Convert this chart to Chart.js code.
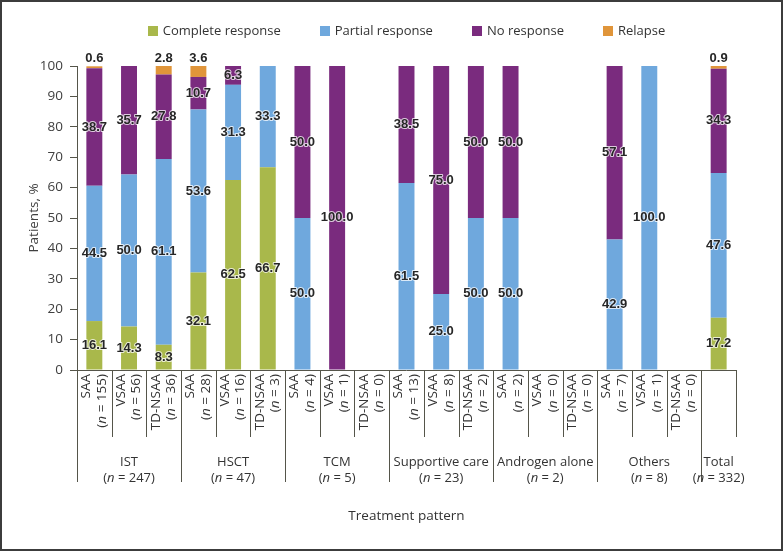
<!DOCTYPE html>
<html>
<head>
<meta charset="utf-8">
<script src="https://cdn.jsdelivr.net/npm/chart.js@4.4.1/dist/chart.umd.min.js"></script>
<style>
    html, body { margin: 0; padding: 0; background: #fff; }
    #wrap { position: relative; width: 783px; height: 551px; }
    #wrap::after { content: ''; position: absolute; inset: 0; border: 2px solid #3c3c3c; pointer-events: none; }
    canvas { display: block; }
</style>
</head>
<body>
<div id="wrap"><canvas id="chart" width="783" height="551"></canvas></div>
<script>
// Response by treatment pattern and disease severity

const subLabels = ['SAA', 'VSAA', 'TD-NSAA', 'SAA', 'VSAA', 'TD-NSAA', 'SAA', 'VSAA', 'TD-NSAA',
                   'SAA', 'VSAA', 'TD-NSAA', 'SAA', 'VSAA', 'TD-NSAA', 'SAA', 'VSAA', 'TD-NSAA', ''];
const subN = [155, 56, 36, 28, 16, 3, 4, 1, 0, 13, 8, 2, 2, 0, 0, 7, 1, 0, null];
const groupLabels = ['IST', 'HSCT', 'TCM', 'Supportive care', 'Androgen alone', 'Others', 'Total'];
const groupN = [247, 47, 5, 23, 2, 8, 332];
const groupStart = [0, 3, 6, 9, 12, 15, 18];
const groupSize = [3, 3, 3, 3, 3, 3, 1];

const completeResp = [16.1, 14.3, 8.3, 32.1, 62.5, 66.7, null, null, null, null, null, null, null, null, null, null, null, null, 17.2];
const partialResp = [44.5, 50.0, 61.1, 53.6, 31.3, 33.3, 50.0, null, null, 61.5, 25.0, 50.0, 50.0, null, null, 42.9, 100.0, null, 47.6];
const noResp = [38.7, 35.7, 27.8, 10.7, 6.3, null, 50.0, 100.0, null, 38.5, 75.0, 50.0, 50.0, null, null, 57.1, null, null, 34.3];
const relapse = [0.6, null, 2.8, 3.6, null, null, null, null, null, null, null, null, null, null, null, null, null, null, 0.9];

const yTicks = [0, 10, 20, 30, 40, 50, 60, 70, 80, 90, 100];

const SERIES = [
    { label: 'Complete response', data: completeResp, color: '#a9b84b' },
    { label: 'Partial response', data: partialResp, color: '#6fa8dd' },
    { label: 'No response', data: noResp, color: '#7a2b7e' },
    { label: 'Relapse', data: relapse, color: '#e0953a' },
];

const FONT = '"Open Sans", "Noto Sans", sans-serif';
const TEXT = '#333333';
const LINE = '#55554a';

// draw "(n = 123)" with an italic n; align: 'right' | 'center'
function drawNText(ctx, n, x, y, align, size) {
    const parts = [['(', false], ['n', true], [' = ' + n + ')', false]];
    let total = 0;
    for (const [t, it] of parts) {
        ctx.font = (it ? 'italic ' : '') + size + 'px ' + FONT;
        total += ctx.measureText(t).width;
    }
    let cx = align === 'right' ? x - total : x - total / 2;
    ctx.textAlign = 'left';
    for (const [t, it] of parts) {
        ctx.font = (it ? 'italic ' : '') + size + 'px ' + FONT;
        ctx.fillText(t, cx, y);
        cx += ctx.measureText(t).width;
    }
}

const decorations = {
    id: 'decorations',
    afterDraw(chart) {
        const ctx = chart.ctx;
        const area = chart.chartArea;
        const xs = chart.scales.x;
        const slot = xs.width / subLabels.length;
        ctx.save();

        // value labels
        ctx.font = 'bold 13px "Liberation Sans", Arial, sans-serif';
        ctx.textAlign = 'center';
        ctx.textBaseline = 'middle';
        ctx.lineJoin = 'round';
        SERIES.forEach((s, di) => {
            const meta = chart.getDatasetMeta(di);
            s.data.forEach((v, j) => {
                if (v == null) return;
                const bar = meta.data[j];
                const yPos = di === 3 ? bar.y - 8 : (bar.y + bar.base) / 2;
                const txt = v.toFixed(1);
                ctx.strokeStyle = 'rgba(255,255,255,0.75)';
                ctx.lineWidth = 2;
                ctx.strokeText(txt, bar.x, yPos);
                ctx.fillStyle = '#262626';
                ctx.fillText(txt, bar.x, yPos);
            });
        });

        // x baseline
        ctx.strokeStyle = LINE;
        ctx.lineWidth = 1;
        ctx.beginPath();
        ctx.moveTo(area.left, area.bottom + 0.5);
        ctx.lineTo(area.right, area.bottom + 0.5);
        ctx.stroke();

        // separators
        const longStarts = new Set(groupStart);
        for (let j = 0; j <= subLabels.length; j++) {
            const x = Math.round(area.left + j * slot) + 0.5;
            const yEnd = longStarts.has(j) ? 482 : 437;
            ctx.beginPath();
            ctx.moveTo(x, area.bottom);
            ctx.lineTo(x, yEnd);
            ctx.stroke();
        }

        // rotated sub labels
        ctx.fillStyle = TEXT;
        ctx.textBaseline = 'middle';
        subLabels.forEach((lab, j) => {
            if (!lab) return;
            const cx = xs.getPixelForValue(j);
            ctx.save();
            ctx.translate(cx, area.bottom + 4);
            ctx.rotate(-Math.PI / 2);
            ctx.font = '13.5px ' + FONT;
            ctx.textAlign = 'right';
            ctx.fillText(lab, 0, -8);
            drawNText(ctx, subN[j], 0, 7.5, 'right', 13.5);
            ctx.restore();
        });

        // group labels
        ctx.textBaseline = 'middle';
        groupLabels.forEach((g, gi) => {
            const first = xs.getPixelForValue(groupStart[gi]);
            const last = xs.getPixelForValue(groupStart[gi] + groupSize[gi] - 1);
            const cx = (first + last) / 2;
            ctx.font = '13px ' + FONT;
            ctx.textAlign = 'center';
            ctx.fillText(g, cx, 462);
            drawNText(ctx, groupN[gi], cx, 478, 'center', 13);
        });

        // x title
        ctx.font = '13.5px ' + FONT;
        ctx.textAlign = 'center';
        ctx.fillText('Treatment pattern', (area.left + area.right) / 2, 516);

        // legend
        ctx.font = '13px ' + FONT;
        const gap = 39, box = 10, boxGap = 5;
        const widths = SERIES.map(s => box + boxGap + ctx.measureText(s.label).width);
        const total = widths.reduce((a, b) => a + b, 0) + gap * (SERIES.length - 1);
        let lx = (area.left + area.right) / 2 - total / 2;
        SERIES.forEach((s, i) => {
            ctx.fillStyle = s.color;
            ctx.fillRect(Math.round(lx), 26, box, box);
            ctx.fillStyle = TEXT;
            ctx.textAlign = 'left';
            ctx.fillText(s.label, lx + box + boxGap, 31);
            lx += widths[i] + gap;
        });

        ctx.restore();
    }
};

new Chart(document.getElementById('chart'), {
    type: 'bar',
    data: {
        labels: subLabels.map((s, i) => s || 'Total'),
        datasets: SERIES.map(s => ({
            label: s.label,
            data: s.data,
            backgroundColor: s.color,
            borderWidth: 0,
            barPercentage: 0.46,
            categoryPercentage: 1,
        })),
    },
    options: {
        responsive: false,
        animation: false,
        devicePixelRatio: 1,
        layout: { padding: { top: 66, right: 47, bottom: 181, left: 0 } },
        plugins: {
            legend: { display: false },
            tooltip: { enabled: false },
        },
        scales: {
            x: { stacked: true, display: false },
            y: {
                stacked: true,
                min: 0, max: 100,
                afterFit: s => { s.width = 77; },
                afterBuildTicks: s => { s.ticks = yTicks.map(v => ({ value: v })); },
                ticks: { color: '#404040', padding: 7, font: { size: 13.5, family: FONT } },
                grid: { drawOnChartArea: false, drawTicks: true, tickLength: 7, color: LINE },
                border: { display: true, color: LINE },
                title: {
                    display: true, text: 'Patients, %', color: '#404040',
                    font: { size: 13.5, family: FONT }, padding: { top: 26, bottom: 0 },
                },
            },
        },
    },
    plugins: [decorations],
});
</script>
</body>
</html>
